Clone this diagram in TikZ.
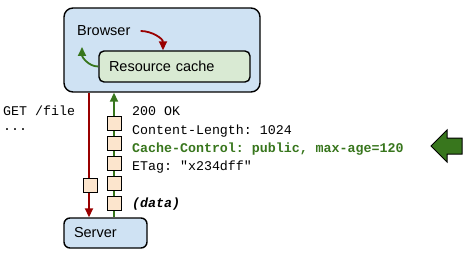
\documentclass[tikz,border=0pt]{standalone}
\usepackage{fontspec}
\setmainfont{Liberation Sans}
\setmonofont{Liberation Mono}
\usetikzlibrary{arrows.meta}

\definecolor{boxblue}{HTML}{CFE2F3}
\definecolor{boxgreen}{HTML}{D9EAD3}
\definecolor{pktfill}{HTML}{FCE5CD}
\definecolor{reqred}{HTML}{990000}
\definecolor{respgreen}{HTML}{38761D}

\tikzset{
  host/.style={draw, line width=1.4pt, fill=boxblue, rounded corners=9pt},
  pkt/.style={draw, line width=0.8pt, fill=pktfill, minimum size=14pt, inner sep=0pt},
  req/.style={draw=reqred, line width=1.8pt, -{Triangle[length=9pt,width=8pt]}},
  resp/.style={draw=respgreen, line width=1.8pt, -{Triangle[length=9pt,width=8pt]}},
  hdr/.style={anchor=base west, inner sep=0pt, font=\fontsize{13.3}{16}\ttfamily},
  lbl/.style={font=\fontsize{14.5}{17}\selectfont}
}

\begin{document}
\begin{tikzpicture}[x=1pt,y=-1pt]
\useasboundingbox (0,0) rectangle (469,254);

% browser with its cache
\node[host, minimum width=196pt, minimum height=84pt] (browser) at (162,50) {};
\node[lbl, anchor=west, inner sep=0pt] (brlabel) at (77,31) {Browser};
\node[lbl, draw, line width=1.4pt, fill=boxgreen, rounded corners=5pt,
      text width=131pt, inner xsep=10pt, align=left, minimum height=31pt] (cache) at (174.5,66.5) {Resource cache};
\draw[req] ([xshift=10pt]brlabel.east) to[out=0,in=90] (cache.north -| 163,0);
\draw[resp] (cache.west) to[out=180,in=-90] (82,47);

% server
\node[host, lbl, rounded corners=6pt, text width=63pt, inner xsep=10pt, align=left,
      minimum height=30pt] (server) at (105.5,233) {Server};

% request and response
\draw[req] (browser.south -| 89,0) -- (server.north -| 89,0);
\draw[resp] (server.north -| 114,0) -- (browser.south -| 114,0);
\node[pkt] (reqpkt) at (90,185) {};
\foreach \i in {1,...,5}
  \node[pkt] (pkt\i) at (114.5,103+20*\i) {};

\node[hdr] (get1) at (3,115) {GET /file};
\node[hdr] (get2) at (3,131) {...};

\node[hdr] (hdr1) at (132,116) {200 OK};
\node[hdr] (hdr2) at (132,134) {Content-Length: 1024};
\node[hdr, text=respgreen, font=\fontsize{13.3}{16}\ttfamily\bfseries] (hdr3) at (132,152) {Cache-Control: public, max-age=120};
\node[hdr] (hdr4) at (132,170) {ETag: "x234dff"};
\node[hdr, font=\fontsize{13.3}{16}\ttfamily\bfseries\itshape] (data) at (132,207) {(data)};

% pointer at the cache header
\draw[line width=1pt, fill=respgreen]
  (431,146) -- (447,130) -- (447,138) -- (462,138) -- (462,154) -- (447,154) -- (447,162) -- cycle;
\end{tikzpicture}
\end{document}
